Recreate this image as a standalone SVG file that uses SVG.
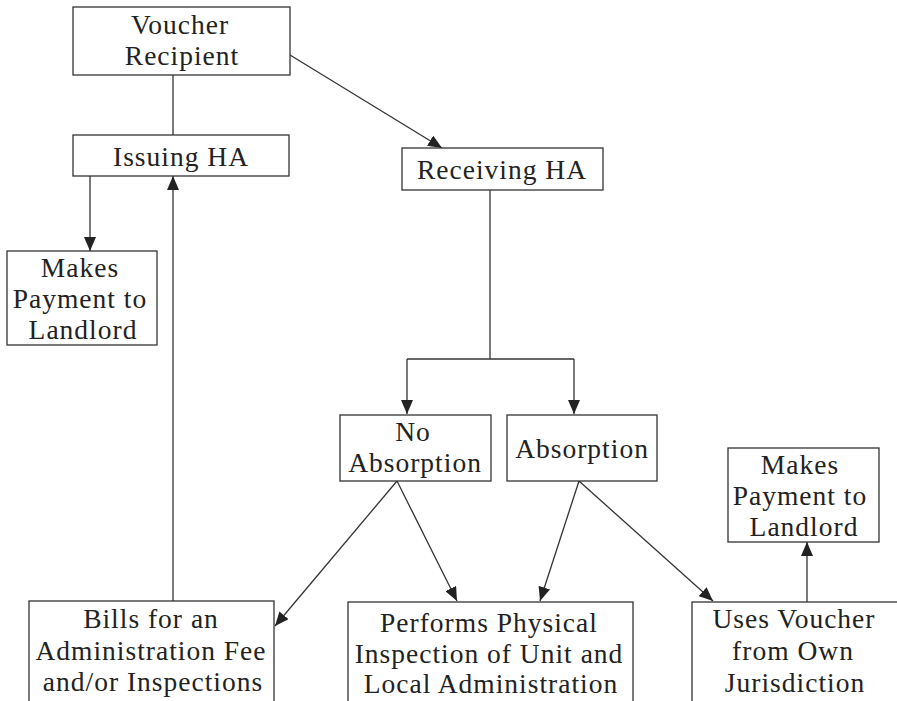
<svg xmlns="http://www.w3.org/2000/svg" width="897" height="701" viewBox="0 0 897 701">
<style>
.box{fill:#fff;stroke:#333;stroke-width:1.3}
.t{font-family:"Liberation Serif","DejaVu Serif",serif;font-size:27.5px;letter-spacing:1px;fill:#222;text-anchor:middle}
.c{stroke:#333;stroke-width:1.3;fill:none}
</style>
<defs>
<marker id="ah" markerUnits="userSpaceOnUse" markerWidth="14" markerHeight="12" refX="14" refY="6" orient="auto" viewBox="0 0 14 12">
<path d="M0,0 L14,6 L0,12 z" fill="#222"/>
</marker>
</defs>
<rect width="897" height="701" fill="#fff"/>
<g id="connectors">
<line class="c" x1="290" y1="55" x2="442" y2="148" marker-end="url(#ah)"/>
<line class="c" x1="173" y1="75" x2="173" y2="135"/>
<line class="c" x1="90" y1="176" x2="90" y2="251" marker-end="url(#ah)"/>
<line class="c" x1="173" y1="601" x2="173" y2="176" marker-end="url(#ah)"/>
<line class="c" x1="490" y1="190" x2="490" y2="359"/>
<line class="c" x1="407" y1="359" x2="574" y2="359"/>
<line class="c" x1="407" y1="359" x2="407" y2="414" marker-end="url(#ah)"/>
<line class="c" x1="574" y1="359" x2="574" y2="414" marker-end="url(#ah)"/>
<line class="c" x1="397" y1="481" x2="275" y2="626" marker-end="url(#ah)"/>
<line class="c" x1="397" y1="481" x2="457" y2="601" marker-end="url(#ah)"/>
<line class="c" x1="579" y1="481" x2="540" y2="601" marker-end="url(#ah)"/>
<line class="c" x1="579" y1="481" x2="713" y2="601" marker-end="url(#ah)"/>
<line class="c" x1="807" y1="602" x2="807" y2="542" marker-end="url(#ah)"/>
</g>
<g id="voucher-recipient">
<rect class="box" x="73" y="7" width="217" height="68"/>
<text class="t" x="180" y="34">Voucher</text>
<text class="t" x="182" y="65">Recipient</text>
</g>
<g id="issuing-ha">
<rect class="box" x="73" y="135" width="216" height="41"/>
<text class="t" x="181" y="166">Issuing HA</text>
</g>
<g id="payment-left">
<rect class="box" x="7" y="251" width="150" height="94"/>
<text class="t" x="80" y="277">Makes</text>
<text class="t" x="80" y="308">Payment to</text>
<text class="t" x="83" y="339">Landlord</text>
</g>
<g id="receiving-ha">
<rect class="box" x="402" y="148" width="201" height="42"/>
<text class="t" x="502" y="179">Receiving HA</text>
</g>
<g id="no-absorption">
<rect class="box" x="340" y="415" width="151" height="66"/>
<text class="t" x="413" y="441">No</text>
<text class="t" x="415" y="472">Absorption</text>
</g>
<g id="absorption">
<rect class="box" x="507" y="415" width="150" height="66"/>
<text class="t" x="582" y="458">Absorption</text>
</g>
<g id="payment-right">
<rect class="box" x="728" y="448" width="151" height="94"/>
<text class="t" x="800" y="474">Makes</text>
<text class="t" x="800" y="505">Payment to</text>
<text class="t" x="804" y="536">Landlord</text>
</g>
<g id="bills">
<rect class="box" x="29" y="601" width="245" height="120"/>
<text class="t" x="151" y="628">Bills for an</text>
<text class="t" x="151" y="660">Administration Fee</text>
<text class="t" x="153" y="691">and/or Inspections</text>
</g>
<g id="performs">
<rect class="box" x="348" y="602" width="285" height="120"/>
<text class="t" x="489" y="632">Performs Physical</text>
<text class="t" x="489" y="663">Inspection of Unit and</text>
<text class="t" x="491" y="693">Local Administration</text>
</g>
<g id="uses-voucher">
<rect class="box" x="692" y="602" width="220" height="120"/>
<text class="t" x="794" y="628">Uses Voucher</text>
<text class="t" x="793" y="660">from Own</text>
<text class="t" x="795" y="692">Jurisdiction</text>
</g>
</svg>
